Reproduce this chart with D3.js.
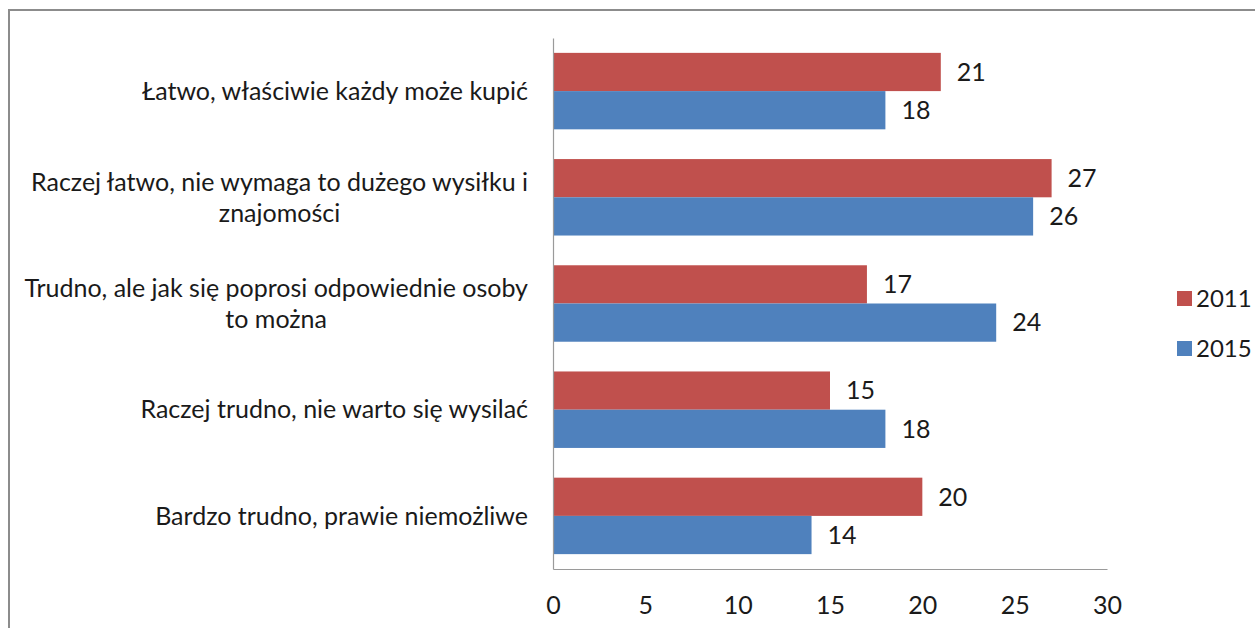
<!DOCTYPE html>
<html>
<head>
<meta charset="utf-8">
<script src="https://cdn.jsdelivr.net/npm/d3@7"></script>
<style>
  body { margin: 0; background: #fff; }
  text { font-family: Lato, "Open Sans", sans-serif; fill: #1a1a1a; }
</style>
</head>
<body>
<div id="chart-area"></div>
<script>
// data
const categories = [
  "Łatwo, właściwie każdy może kupić",
  "Raczej łatwo, nie wymaga to dużego wysiłku i znajomości",
  "Trudno, ale jak się poprosi odpowiednie osoby to można",
  "Raczej trudno, nie warto się wysilać",
  "Bardzo trudno, prawie niemożliwe"
];
const seriesNames = ["2011", "2015"];
const values2011 = [21, 27, 17, 15, 20];
const values2015 = [18, 26, 24, 18, 14];
const xTicks = [0, 5, 10, 15, 20, 25, 30];
const colors = ["#C0504D", "#4F81BD"];

const W = 1255, H = 628;
const margin = { top: 38, right: 148, bottom: 59, left: 553 };
const fontSize = 25;

const svg = d3.select('#chart-area')
  .append('svg')
  .attr('width', W)
  .attr('height', H);

// outer border of the chart
svg.append('rect')
  .attr('x', 9).attr('y', 10)
  .attr('width', W).attr('height', H)
  .attr('fill', 'none')
  .attr('stroke', '#8c8c8c')
  .attr('stroke-width', 2);

const x_s = d3.scaleLinear()
  .domain([0, 30])
  .range([margin.left, W - margin.right]);

const y_s = d3.scaleBand()
  .domain(categories)
  .range([margin.top, H - margin.bottom])
  .paddingInner(0.28)
  .paddingOuter(0.14);

const sub_s = d3.scaleBand()
  .domain(seriesNames)
  .range([0, y_s.bandwidth()]);

const rows = categories.map((c, i) => ({
  cat: c,
  vals: [
    { name: seriesNames[0], v: values2011[i], color: colors[0] },
    { name: seriesNames[1], v: values2015[i], color: colors[1] }
  ]
}));

// bars
const groups = svg.selectAll('.grp')
  .data(rows)
  .enter().append('g')
  .attr('class', 'grp')
  .attr('transform', d => `translate(0, ${y_s(d.cat)})`);

groups.selectAll('rect')
  .data(d => d.vals)
  .enter().append('rect')
  .attr('x', x_s(0))
  .attr('y', d => sub_s(d.name))
  .attr('width', d => x_s(d.v) - x_s(0))
  .attr('height', sub_s.bandwidth())
  .attr('fill', d => d.color);

groups.selectAll('.val')
  .data(d => d.vals)
  .enter().append('text')
  .attr('class', 'val')
  .attr('x', d => x_s(d.v) + 16)
  .attr('y', d => sub_s(d.name) + sub_s.bandwidth() / 2)
  .attr('dy', '0.35em')
  .style('font-size', fontSize + 'px')
  .text(d => d.v);

// x axis
const xAxis = d3.axisBottom(x_s)
  .tickValues(xTicks)
  .tickSize(0)
  .tickPadding(27);
const gx = svg.append('g')
  .attr('transform', `translate(0, ${H - margin.bottom})`)
  .call(xAxis);
gx.select('.domain').attr('stroke', '#9a9a9a').attr('stroke-width', 1.2);
gx.selectAll('text')
  .style('font-size', fontSize + 'px')
  .attr('fill', '#1a1a1a');

// y axis (line only, labels wrapped by hand)
const yAxis = d3.axisLeft(y_s).tickSize(0).tickFormat('');
const gy = svg.append('g')
  .attr('transform', `translate(${margin.left}, 0)`)
  .call(yAxis);
gy.select('.domain').attr('stroke', '#9a9a9a').attr('stroke-width', 1.2);

// category labels, wrapped, block right-aligned, lines centred
const labelRight = margin.left - 25;
const maxW = 515;
const lineH = 31;
const measure = svg.append('text').style('font-size', fontSize + 'px');
function textW(s) { measure.text(s); return measure.node().getComputedTextLength(); }

categories.forEach(c => {
  const words = c.split(' ');
  const lines = [];
  let cur = '';
  words.forEach(w => {
    const t = cur ? cur + ' ' + w : w;
    if (textW(t) > maxW && cur) { lines.push(cur); cur = w; }
    else cur = t;
  });
  lines.push(cur);
  const blockW = d3.max(lines, textW);
  const cx = labelRight - blockW / 2;
  const cy = y_s(c) + y_s.bandwidth() / 2;
  const t = svg.append('text')
    .attr('text-anchor', 'middle')
    .style('font-size', fontSize + 'px');
  lines.forEach((ln, i) => {
    t.append('tspan')
      .attr('x', cx)
      .attr('y', cy + (i - (lines.length - 1) / 2) * lineH)
      .attr('dy', '0.35em')
      .text(ln);
  });
});
measure.remove();

// legend (nudged left so the labels are not clipped)
const legend = svg.selectAll('.leg')
  .data(seriesNames)
  .enter().append('g')
  .attr('class', 'leg')
  .attr('transform', (d, i) => `translate(1177, ${291 + i * 50})`);
legend.append('rect')
  .attr('width', 15).attr('height', 15)
  .attr('fill', (d, i) => colors[i]);
legend.append('text')
  .attr('x', 19).attr('y', 8)
  .attr('dy', '0.35em')
  .style('font-size', '24px')
  .text(d => d);
</script>
</body>
</html>
